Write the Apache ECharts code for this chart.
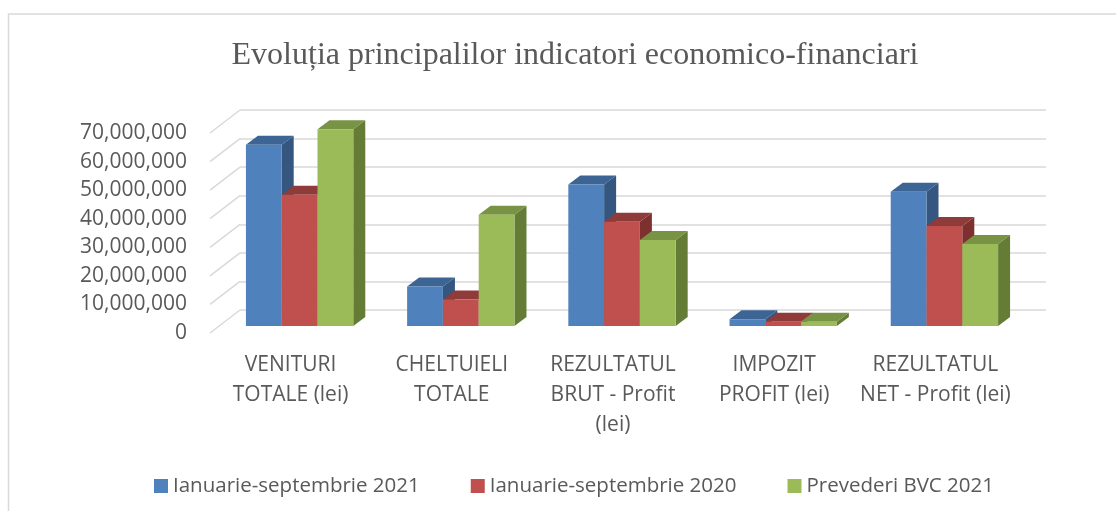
<!DOCTYPE html>
<html>
<head>
<meta charset="utf-8">
<script src="https://cdn.jsdelivr.net/npm/echarts@6/dist/echarts.min.js"></script>
<style>
  html, body { margin: 0; padding: 0; background: #fff; }
  #main { width: 1116px; height: 511px; }
</style>
</head>
<body>
<div id="main"></div>
<script>
// date (lei)
var categorii = [
  'VENITURI\nTOTALE (lei)',
  'CHELTUIELI\nTOTALE',
  'REZULTATUL\nBRUT - Profit\n(lei)',
  'IMPOZIT\nPROFIT (lei)',
  'REZULTATUL\nNET - Profit (lei)'
];
var ian_sep_2021 = [63400000, 13800000, 49500000, 2400000, 47000000];
var ian_sep_2020 = [45900000, 9300000, 36500000, 1500000, 35000000];
var prevederi_bvc_2021 = [68900000, 38900000, 30100000, 1500000, 28700000];
var yTicks = [0, 10000000, 20000000, 30000000, 40000000, 50000000, 60000000, 70000000];

var numeSerii = ['Ianuarie-septembrie 2021', 'Ianuarie-septembrie 2020', 'Prevederi BVC 2021'];
var valori = [ian_sep_2021, ian_sep_2020, prevederi_bvc_2021];
// fata, capac, lateral
var culori = [
  ['#4F81BD', '#3C6494', '#34567F'],
  ['#C0504D', '#8F3B39', '#7D302E'],
  ['#9BBB59', '#779343', '#657C37']
];

var WALL_DX = 30, WALL_DY = 23;   // adancimea peretelui din spate
var BAR_OFF_X = 9, BAR_OFF_Y = 7; // pozitia fetei coloanei in adancime
var BAR_DX = 12, BAR_DY = 9;      // grosimea coloanei
var textColor = '#595959';
var gridColor = '#d9d9d9';

function fmt(v) {
  return String(v).replace(/\B(?=(\d{3})+(?!\d))/g, ',');
}

var myChart = echarts.init(document.getElementById('main'));

function barSeries(idx) {
  return {
    name: numeSerii[idx],
    type: 'custom',
    xAxisIndex: 0,
    yAxisIndex: 0,
    itemStyle: { color: culori[idx][0] },
    data: valori[idx].map(function (v, i) { return [i, v]; }),
    renderItem: function (params, api) {
      var cat = api.value(0);
      var base = api.coord([cat, 0]);
      var top = api.coord([cat, api.value(1)]);
      var band = api.size([1, 0])[0];
      var w = band * 0.222;
      var x0 = base[0] + (idx - 1) * w - w / 2 + BAR_OFF_X;
      var y0 = base[1] - BAR_OFF_Y;
      var yT = top[1] - BAR_OFF_Y;
      var c = culori[idx];
      return {
        type: 'group',
        children: [
          {
            type: 'polygon',
            shape: { points: [[x0 + w, yT], [x0 + w + BAR_DX, yT - BAR_DY], [x0 + w + BAR_DX, y0 - BAR_DY], [x0 + w, y0]] },
            style: { fill: c[2] }
          },
          {
            type: 'polygon',
            shape: { points: [[x0, yT], [x0 + w, yT], [x0 + w + BAR_DX, yT - BAR_DY], [x0 + BAR_DX, yT - BAR_DY]] },
            style: { fill: c[1] }
          },
          {
            type: 'rect',
            shape: { x: x0, y: yT, width: w, height: y0 - yT },
            style: { fill: c[0] }
          }
        ]
      };
    }
  };
}

var option = {
  backgroundColor: '#ffffff',
  animation: false,
  graphic: [{
    type: 'rect',
    shape: { x: 8.5, y: 14, width: 1200, height: 600 },
    style: { fill: 'none', stroke: gridColor, lineWidth: 1.5 },
    silent: true,
    z: -10
  }],
  title: {
    text: 'Evoluția principalilor indicatori economico-financiari',
    left: 570,
    textAlign: 'center',
    top: 35,
    textStyle: {
      fontFamily: 'Liberation Serif',
      fontSize: 32,
      fontWeight: 'normal',
      color: textColor
    }
  },
  legend: {
    data: numeSerii,
    left: 149,
    top: 469,
    icon: 'rect',
    itemWidth: 14,
    itemHeight: 14,
    itemGap: 51,
    textStyle: { fontFamily: 'Open Sans', fontSize: 20.5, color: textColor, lineHeight: 24 }
  },
  grid: [
    // planul din fata (axe si etichete)
    { left: 210, right: 100, top: 133, bottom: 178 },
    // peretele din spate (liniile de grila)
    { left: 210 + WALL_DX, right: 100 - WALL_DX, top: 133 - WALL_DY, bottom: 178 + WALL_DY }
  ],
  xAxis: [
    {
      type: 'category',
      gridIndex: 0,
      data: categorii,
      axisLine: { show: false },
      axisTick: { show: false },
      axisLabel: {
        interval: 0,
        margin: 17,
        fontFamily: 'Open Sans',
        fontSize: 21,
        lineHeight: 30,
        color: textColor
      }
    },
    {
      type: 'category',
      gridIndex: 1,
      data: categorii,
      show: false
    }
  ],
  yAxis: [
    {
      type: 'value',
      gridIndex: 0,
      min: yTicks[0],
      max: yTicks[yTicks.length - 1],
      interval: yTicks[1] - yTicks[0],
      axisLine: { show: false },
      axisTick: { show: false },
      splitLine: { show: false },
      axisLabel: {
        margin: 23,
        fontFamily: 'Open Sans',
        fontSize: 21,
        color: textColor,
        formatter: fmt
      }
    },
    {
      type: 'value',
      gridIndex: 1,
      min: yTicks[0],
      max: yTicks[yTicks.length - 1],
      interval: yTicks[1] - yTicks[0],
      axisLine: { show: false },
      axisTick: { show: false },
      axisLabel: { show: false },
      splitLine: { show: true, lineStyle: { color: gridColor, width: 1.5 } }
    }
  ],
  series: [
    {
      // liniile oblice ale peretelui din stanga
      type: 'custom',
      xAxisIndex: 0,
      yAxisIndex: 0,
      silent: true,
      z: 1,
      data: yTicks.map(function (v) { return [0, v]; }),
      renderItem: function (params, api) {
        var p = api.coord([0, api.value(1)]);
        var left = params.coordSys.x;
        return {
          type: 'line',
          shape: { x1: left, y1: p[1], x2: left + WALL_DX, y2: p[1] - WALL_DY },
          style: { stroke: gridColor, lineWidth: 1.5 }
        };
      }
    },
    barSeries(0),
    barSeries(1),
    barSeries(2)
  ]
};

myChart.setOption(option);
</script>
</body>
</html>
